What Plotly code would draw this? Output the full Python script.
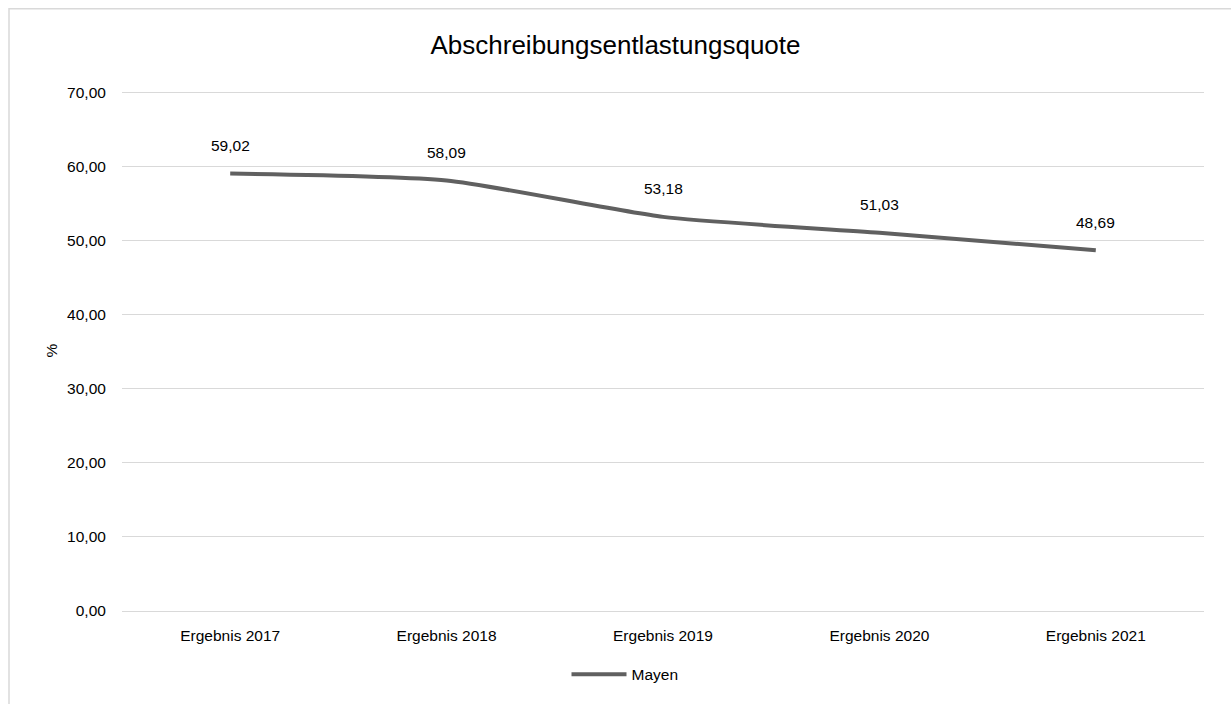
import plotly.graph_objects as go

# Data
categories = ["Ergebnis 2017", "Ergebnis 2018", "Ergebnis 2019", "Ergebnis 2020", "Ergebnis 2021"]
values_mayen = [59.02, 58.09, 53.18, 51.03, 48.69]
series_name = "Mayen"
y_ticks = [0, 10, 20, 30, 40, 50, 60, 70]

FONT = "Liberation Sans, Arial, sans-serif"
LINE_COLOR = "#606060"
GRID_COLOR = "#d9d9d9"

fig = go.Figure()

fig.add_trace(go.Scatter(
    x=categories,
    y=values_mayen,
    name=series_name,
    mode="lines",
    line=dict(color=LINE_COLOR, width=4, shape="spline", smoothing=0.6),
    hovertemplate="%{x}: %{y:.2f}<extra></extra>",
))

# data labels above points
for cat, val in zip(categories, values_mayen):
    fig.add_annotation(
        x=cat, y=val, text=f"{val:.2f}".replace(".", ","),
        showarrow=False, yshift=28,
        font=dict(family=FONT, size=15.5, color="#000000"),
    )

fig.update_layout(
    width=1231,
    height=704,
    paper_bgcolor="white",
    plot_bgcolor="white",
    separators=",.",
    font=dict(family=FONT, size=15.5, color="#000000"),
    title=dict(
        text="Abschreibungsentlastungsquote",
        x=0.5, xanchor="center", y=0.936, yanchor="middle",
        font=dict(family=FONT, size=26, color="#000000"),
    ),
    margin=dict(l=122, r=27, t=90, b=88),
    showlegend=True,
    legend=dict(
        orientation="h", x=(625 - 122) / 1082, xanchor="center", y=-0.122, yanchor="middle",
        font=dict(family=FONT, size=15.5, color="#000000"),
        itemwidth=55,
    ),
    xaxis=dict(
        range=[-0.5, 4.5],
        showgrid=False,
        showline=False,
        zeroline=False,
        ticks="outside",
        ticklen=10,
        tickcolor="rgba(0,0,0,0)",
        tickfont=dict(family=FONT, size=15.5, color="#000000"),
    ),
    yaxis=dict(
        range=[0, 70.3],
        tickvals=y_ticks,
        tickformat=".2f",
        showgrid=True,
        gridcolor=GRID_COLOR,
        gridwidth=1.3,
        zeroline=True,
        zerolinecolor=GRID_COLOR,
        zerolinewidth=1.3,
        showline=False,
        ticks="outside",
        ticklen=12,
        tickcolor="rgba(0,0,0,0)",
        tickfont=dict(family=FONT, size=15.5, color="#000000"),
        title=dict(text="%", standoff=5, font=dict(family=FONT, size=15.5, color="#000000")),
    ),
    shapes=[
        # outer chart frame, cropped at the right and bottom like the source image
        dict(type="rect", xref="paper", yref="paper",
             x0=(9 - 122) / 1082, x1=1.05, y0=-0.5, y1=1 + (90 - 8) / 526,
             line=dict(color=GRID_COLOR, width=1.5), fillcolor="rgba(0,0,0,0)", layer="below"),
    ],
)

fig.write_html(
    "out.html",
    config={"displayModeBar": False},
    post_script="document.body.style.margin='0';document.body.style.overflow='hidden';",
)
